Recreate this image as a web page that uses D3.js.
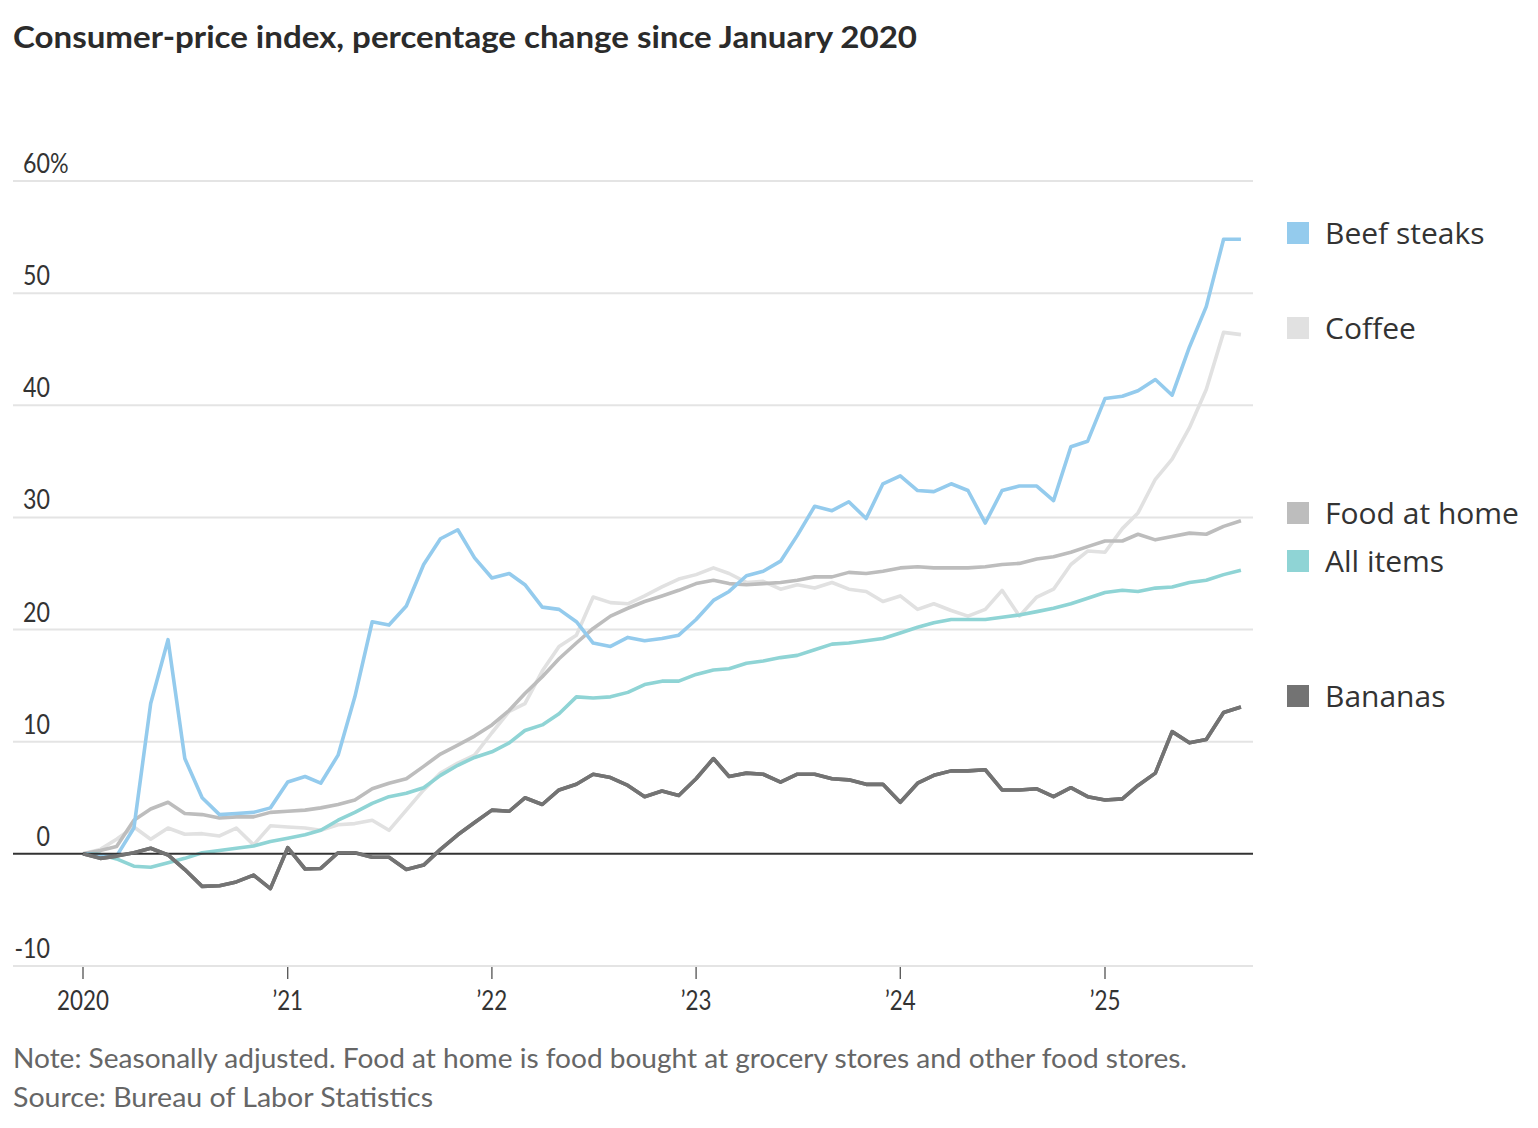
<!DOCTYPE html>
<html><head><meta charset="utf-8">
<script src="https://cdn.jsdelivr.net/npm/d3@7"></script>
<style>
html,body{margin:0;padding:0;background:#fff;}
svg{display:block;}
</style></head><body>
<svg id="chart" width="1538" height="1128"></svg>
<script>
// ---------- DATA (monthly, Jan 2020 – Sep 2025, % change since Jan 2020) ----------
const firstMonth = "2020-01";
const monthCount = 69;

const beefSteaks = [0,-0.1,-0.2,2.3,13.4,19.1,8.5,5.0,3.5,3.6,3.7,4.1,
  6.4,6.9,6.3,8.8,14.0,20.7,20.4,22.1,25.8,28.1,28.9,26.4,
  24.6,25.0,24.0,22.0,21.8,20.7,18.8,18.5,19.3,19.0,19.2,19.5,
  20.9,22.6,23.4,24.8,25.2,26.1,28.4,31.0,30.6,31.4,29.9,33.0,
  33.7,32.4,32.3,33.0,32.4,29.5,32.4,32.8,32.8,31.5,36.3,36.8,
  40.6,40.8,41.3,42.3,40.9,45.2,48.8,54.8,54.8];

const coffee = [0,0.4,1.3,2.4,1.3,2.3,1.75,1.8,1.6,2.3,0.8,2.5,
  2.4,2.3,2.1,2.6,2.7,3.0,2.1,3.9,5.7,7.2,8.1,8.8,
  10.8,12.7,13.4,16.3,18.5,19.5,22.9,22.4,22.3,23.0,23.8,24.5,
  24.9,25.5,25.0,24.2,24.3,23.6,24.0,23.7,24.2,23.6,23.4,22.5,
  23.0,21.8,22.3,21.7,21.2,21.8,23.5,21.2,22.9,23.6,25.8,27.0,
  26.9,29.0,30.4,33.4,35.2,38.0,41.4,46.5,46.3];

const foodAtHome = [0,0.3,0.65,3.0,4.0,4.6,3.6,3.5,3.2,3.3,3.3,3.7,
  3.8,3.9,4.1,4.4,4.8,5.8,6.3,6.7,7.8,8.9,9.7,10.5,
  11.5,12.8,14.3,15.8,17.4,18.8,20.1,21.2,21.9,22.5,23.0,23.5,
  24.1,24.4,24.1,24.0,24.1,24.2,24.4,24.7,24.7,25.1,25.0,25.2,
  25.5,25.6,25.5,25.5,25.5,25.6,25.8,25.9,26.3,26.5,26.9,27.4,
  27.9,27.9,28.5,28.0,28.3,28.6,28.5,29.2,29.7];

const allItems = [0,-0.05,-0.45,-1.1,-1.2,-0.8,-0.4,0.1,0.3,0.5,0.7,1.1,
  1.4,1.7,2.1,3.0,3.7,4.5,5.1,5.4,5.9,7.0,7.9,8.6,
  9.1,9.9,11.0,11.5,12.5,14.0,13.9,14.0,14.4,15.1,15.4,15.4,
  16.0,16.4,16.5,17.0,17.2,17.5,17.7,18.2,18.7,18.8,19.0,19.2,
  19.7,20.2,20.6,20.9,20.9,20.9,21.1,21.3,21.6,21.9,22.3,22.8,
  23.3,23.5,23.4,23.7,23.8,24.2,24.4,24.9,25.3];

const bananas = [0,-0.4,-0.2,0.1,0.5,-0.1,-1.4,-2.9,-2.85,-2.5,-1.9,-3.1,
  0.55,-1.35,-1.3,0.1,0.1,-0.3,-0.3,-1.4,-1.0,0.4,1.7,2.8,
  3.9,3.8,5.0,4.4,5.7,6.2,7.1,6.8,6.1,5.1,5.6,5.2,
  6.7,8.5,6.9,7.2,7.1,6.4,7.1,7.1,6.7,6.6,6.2,6.2,
  4.6,6.3,7.0,7.4,7.4,7.5,5.7,5.7,5.8,5.1,5.9,5.1,
  4.8,4.9,6.1,7.2,10.9,9.9,10.2,12.6,13.1];

const seriesNames  = ["Beef steaks","Coffee","Food at home","All items","Bananas"];
const seriesColors = ["#94cbed","#e1e1e1","#bdbdbd","#8fd4d5","#737373"];
const seriesValues = [beefSteaks, coffee, foodAtHome, allItems, bananas];
const drawOrder    = [1,2,3,0,4];

const yTicks = [-10,0,10,20,30,40,50,60];
const xTickYears  = [2020,2021,2022,2023,2024,2025];
const xTickLabels = ["2020","\u201921","\u201922","\u201923","\u201924","\u201925"];

const titleText  = "Consumer-price index, percentage change since January 2020";
const noteText   = "Note: Seasonally adjusted. Food at home is food bought at grocery stores and other food stores.";
const sourceText = "Source: Bureau of Labor Statistics";

// ---------- LAYOUT ----------
const svg = d3.select("#chart");
const gridLeft = 13, gridRight = 1253;
const t0 = new Date(firstMonth + "-01T00:00:00Z");
const months = d3.utcMonth.range(t0, d3.utcMonth.offset(t0, monthCount));

const x = d3.scaleUtc()
  .domain([new Date(Date.UTC(2020,0,1)), new Date(Date.UTC(2025,0,1))])
  .range([83, 1105]);
const y = d3.scaleLinear().domain([-10, 60]).range([966, 181]);

function condense(sel, f){
  sel.each(function(){
    const len = this.getComputedTextLength();
    d3.select(this).attr("textLength", len*f).attr("lengthAdjust","spacingAndGlyphs");
  });
}
function fitWidth(sel, w){
  sel.attr("textLength", w).attr("lengthAdjust","spacingAndGlyphs");
}

// Title
svg.append("text").attr("x", 13).attr("y", 48)
  .attr("font-family","Lato, 'Open Sans', sans-serif").attr("font-weight",700)
  .attr("font-size", 30).attr("fill","#2b2b2b").text(titleText)
  .call(fitWidth, 904);

// gridlines
svg.append("g").selectAll("line").data(yTicks.filter(v=>v!==0)).join("line")
  .attr("x1", gridLeft).attr("x2", gridRight)
  .attr("y1", d=>y(d)).attr("y2", d=>y(d))
  .attr("stroke","#e4e4e4").attr("stroke-width",2);

// y labels: numbers right-aligned at x=50, the top one carries a trailing "%"
const yl = svg.append("g").attr("font-family","Lato, 'Open Sans', sans-serif")
  .attr("font-size",27).attr("fill","#333");
const yLab = yl.selectAll("text").data(yTicks).join("text")
  .attr("x", 50).attr("y", d=>y(d)-8).attr("text-anchor","end")
  .text(d=>d).call(condense, 0.86);
// turn the top label into "60%" starting where the number started
yLab.filter(d=>d===yTicks[yTicks.length-1]).each(function(){
  const bb = this.getBBox();
  const sel = d3.select(this);
  sel.attr("textLength", null).attr("lengthAdjust", null)
     .attr("text-anchor","start").attr("x", bb.x).text(this.textContent + "%");
  const len = this.getComputedTextLength();
  sel.attr("textLength", len*0.86).attr("lengthAdjust","spacingAndGlyphs");
});

// x ticks
const xt = svg.append("g");
xt.selectAll("line").data(xTickYears).join("line")
  .attr("x1", d=>x(new Date(Date.UTC(d,0,1)))).attr("x2", d=>x(new Date(Date.UTC(d,0,1))))
  .attr("y1", 967).attr("y2", 979).attr("stroke","#444").attr("stroke-width",1.2);
xt.selectAll("text").data(xTickYears).join("text")
  .attr("x", d=>x(new Date(Date.UTC(d,0,1)))).attr("y", 1010)
  .attr("text-anchor","middle")
  .attr("font-family","Lato, 'Open Sans', sans-serif").attr("font-size",26).attr("fill","#333")
  .text((d,i)=>xTickLabels[i]).call(condense, 0.86);

// lines
const line = d3.line().x(d=>x(d[0])).y(d=>y(d[1]));
const lg = svg.append("g");
drawOrder.forEach(k=>{
  const pts = months.map((m,i)=>[m, seriesValues[k][i]]);
  lg.append("path").attr("d", line(pts)).attr("fill","none")
    .attr("stroke", seriesColors[k]).attr("stroke-width",3.6)
    .attr("stroke-linejoin","round").attr("stroke-linecap","butt");
});
// zero line
svg.append("line").attr("x1", gridLeft).attr("x2", gridRight)
  .attr("y1", y(0)).attr("y2", y(0)).attr("stroke","#333").attr("stroke-width",2);
// bananas on top of zero line
{
  const pts = months.map((m,i)=>[m, bananas[i]]);
  svg.append("path").attr("d", line(pts)).attr("fill","none")
    .attr("stroke", seriesColors[4]).attr("stroke-width",3.6).attr("stroke-linejoin","round");
}

// legend
const legendCenters = [233, 328, 513, 561, 696];
const leg = svg.append("g");
seriesNames.forEach((n,i)=>{
  leg.append("rect").attr("x",1287).attr("y",legendCenters[i]-11)
    .attr("width",22).attr("height",22).attr("fill",seriesColors[i]);
  leg.append("text").attr("x",1325).attr("y",legendCenters[i]+11)
    .attr("font-family","'Open Sans', Lato, sans-serif").attr("font-size",30)
    .attr("fill","#333").text(n);
});

// notes
svg.append("text").attr("x",13).attr("y",1068)
  .attr("font-family","Lato, 'Open Sans', sans-serif").attr("font-size",26).attr("fill","#666")
  .text(noteText).call(fitWidth, 1174);
svg.append("text").attr("x",13).attr("y",1107)
  .attr("font-family","Lato, 'Open Sans', sans-serif").attr("font-size",26).attr("fill","#666")
  .text(sourceText).call(fitWidth, 420);
</script>
</body></html>
